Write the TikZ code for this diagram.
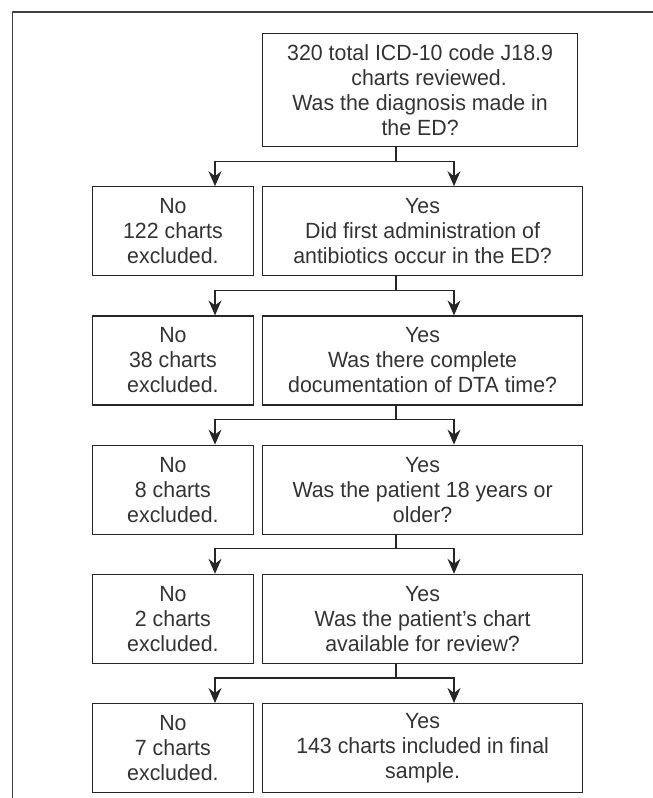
\documentclass[tikz,border=0pt]{standalone}
\usepackage{fontspec}
\setmainfont[FakeStretch=0.97]{Liberation Sans}
\usepackage{tikz}
\usetikzlibrary{arrows.meta, positioning, calc}

\begin{document}
\begin{tikzpicture}[x=1pt, y=1pt, font=\fontsize{22}{25}\selectfont, text=black!80,
    box/.style={rectangle, draw=black!85, line width=1.2pt, inner sep=0pt, align=center, minimum height=89pt},
    topbox/.style={box, minimum width=315pt, minimum height=113pt},
    yesbox/.style={box, minimum width=320pt},
    nobox/.style={box, minimum width=161pt},
    flow/.style={draw=black!85, line width=1.2pt, -{Stealth[length=15pt, width=13pt, inset=5pt]}},
    node distance=8pt]
    \useasboundingbox (0,0) rectangle (653,-798);
    % open frame
    \draw[black!75, line width=1.2pt] (12.7,-798) -- (12.7,-12) -- (653,-12);
    \coordinate (S) at (396,0);
    \coordinate (L) at (215,0);
    \coordinate (R) at (454,0);
    \node[topbox, anchor=north west] (top) at (262,-33) {320 total ICD-10 code J18.9\\\hspace*{18pt}charts reviewed.\\Was the diagnosis made in\\the ED?};
    \node[yesbox, anchor=north west] (yes1) at ([yshift=-39pt]top.south west) {Yes\\Did first administration of\\antibiotics occur in the ED?};
    \node[yesbox, anchor=north west] (yes2) at ([yshift=-39pt]yes1.south west) {Yes\\Was there complete\\documentation of DTA time?};
    \node[yesbox, anchor=north west] (yes3) at ([yshift=-39pt]yes2.south west) {Yes\\Was the patient 18 years or\\older?};
    \node[yesbox, anchor=north west] (yes4) at ([yshift=-39pt]yes3.south west) {Yes\\Was the patient’s chart\\available for review?};
    \node[yesbox, anchor=north west] (yes5) at ([yshift=-39pt]yes4.south west) {Yes\\143 charts included in final\\sample.};
    \node[nobox, left=of yes1] (no1) {No\\122 charts\\excluded.};
    \node[nobox, left=of yes2] (no2) {No\\38 charts\\excluded.};
    \node[nobox, left=of yes3] (no3) {No\\8 charts\\excluded.};
    \node[nobox, left=of yes4] (no4) {No\\2 charts\\excluded.};
    \node[nobox, left=of yes5] (no5) {No\\7 charts\\excluded.};
    \foreach \a/\n/\y in {top/no1/yes1, yes1/no2/yes2, yes2/no3/yes3, yes3/no4/yes4, yes4/no5/yes5} {
        \draw[flow] (\a.south -| S) -- ++(0,-14) -| (\n.north -| L);
        \draw[flow] (\a.south -| S) -- ++(0,-14) -| (\y.north -| R);
    }
\end{tikzpicture}
\end{document}
